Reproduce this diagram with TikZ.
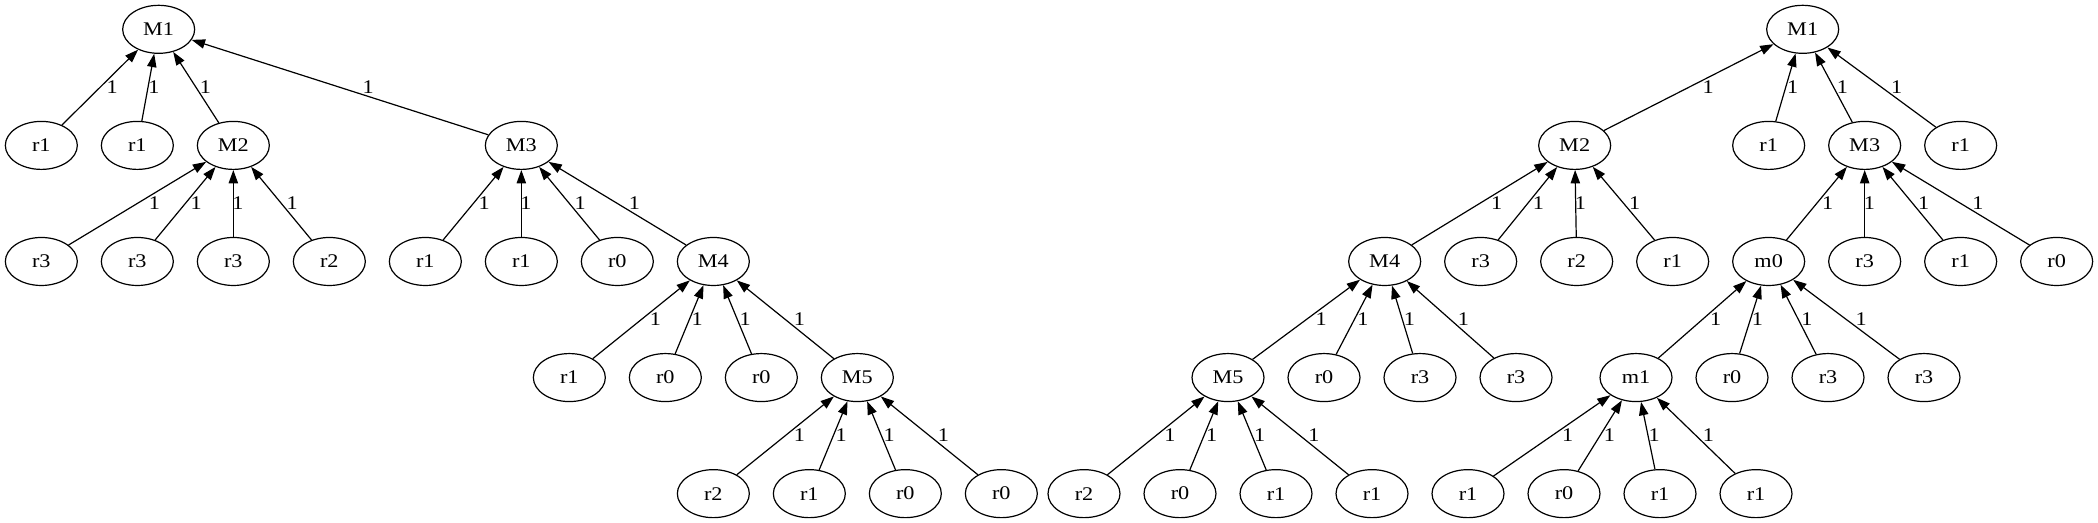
\documentclass[tikz,border=0pt]{standalone}
\usepackage{fontspec}
\setmainfont{Liberation Serif}
\newfontfamily\dotfont[FakeStretch=1.15]{Liberation Serif}
\usetikzlibrary{shapes.geometric, arrows.meta, calc}

\tikzset{
  vertex/.style={ellipse, draw, line width=0.9pt, minimum width=54pt, minimum height=36pt,
    inner sep=0pt, font=\dotfont\fontsize{14.5}{17}\selectfont},
  edge/.style={-{Triangle[length=10pt, width=7pt]}, line width=0.9pt},
  weight/.style={inner sep=0pt, font=\dotfont\fontsize{14.5}{17}\selectfont}
}

\begin{document}
\begin{tikzpicture}[x=1pt, y=1pt]
  \useasboundingbox (0,0) rectangle (1573.5,392.25);

  % Arbol izquierdo
  \foreach \n/\x/\r/\t in {lM1/119/0/M1,
      la/31/1/r1, lb/103/1/r1, lM2/175/1/M2, lM3/391/1/M3,
      lc/31/2/r3, ld/103/2/r3, le/175/2/r3, lf/247/2/r2,
      lg/319/2/r1, lh/391/2/r1, li/463/2/r0, lM4/535/2/M4,
      lj/427/3/r1, lk/499/3/r0, ll/571/3/r0, lM5/643/3/M5,
      lm/535/4/r2, ln/607/4/r1, lo/679/4/r0, lp/751/4/r0}
    \node[vertex] (\n) at (\x, {370.25-87.06*\r}) {\t};

  % Arbol derecho
  \foreach \n/\x/\r/\t in {rM1/1352/0/M1,
      rM2/1181/1/M2, ra/1326.5/1/r1, rM3/1398.5/1/M3, rb/1470.5/1/r1,
      rM4/1038.5/2/M4, rc/1110.5/2/r3, rd/1182.5/2/r2, re/1254.5/2/r1,
      rm0/1326.5/2/m0, rf/1398.5/2/r3, rg/1470.5/2/r1, rh/1542.5/2/r0,
      rM5/921/3/M5, ri/993/3/r0, rj/1065/3/r3, rk/1137/3/r3,
      rm1/1227/3/m1, rl/1299/3/r0, rm/1371/3/r3, rn/1443/3/r3,
      ro/813/4/r2, rp/885/4/r0, rq/957/4/r1, rr/1029/4/r1,
      rs/1101/4/r1, rt/1173/4/r0, ru/1245/4/r1, rv/1317/4/r1}
    \node[vertex] (\n) at (\x, {370.25-87.06*\r}) {\t};

  % Aristas con peso
  \foreach \ch/\pa in {la/lM1, lb/lM1, lM2/lM1, lM3/lM1,
      lc/lM2, ld/lM2, le/lM2, lf/lM2,
      lg/lM3, lh/lM3, li/lM3, lM4/lM3,
      lj/lM4, lk/lM4, ll/lM4, lM5/lM4,
      lm/lM5, ln/lM5, lo/lM5, lp/lM5,
      rM2/rM1, ra/rM1, rM3/rM1, rb/rM1,
      rM4/rM2, rc/rM2, rd/rM2, re/rM2,
      rm0/rM3, rf/rM3, rg/rM3, rh/rM3,
      rM5/rM4, ri/rM4, rj/rM4, rk/rM4,
      rm1/rm0, rl/rm0, rm/rm0, rn/rm0,
      ro/rM5, rp/rM5, rq/rM5, rr/rM5,
      rs/rm1, rt/rm1, ru/rm1, rv/rm1}
    \draw[edge] let \p1=(\ch), \p2=(\pa) in
      (\ch) -- node[weight, xshift={3.5pt+0.065*abs(\x2-\x1)}] {1} (\pa);

\end{tikzpicture}
\end{document}
